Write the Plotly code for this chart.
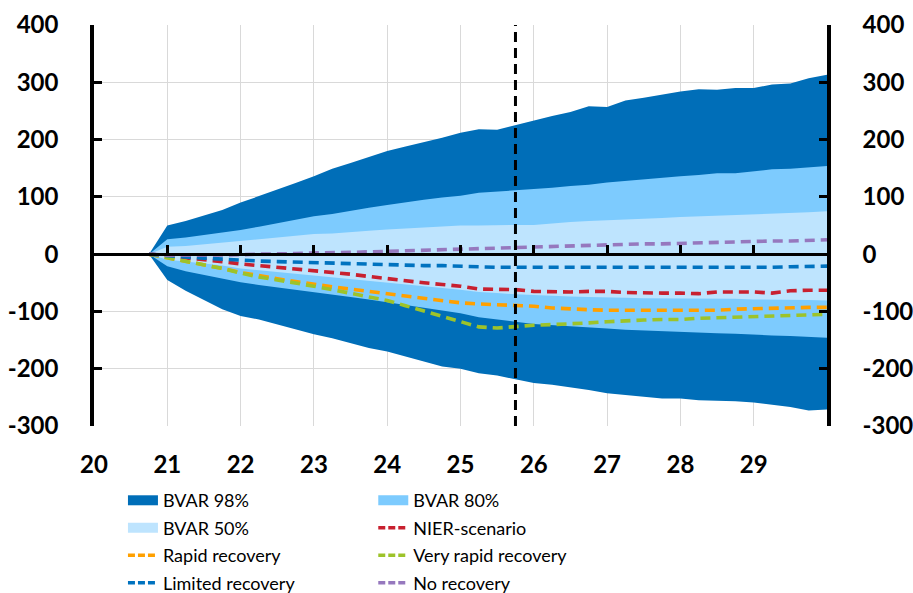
import plotly.graph_objects as go

# Quarterly horizon, years written as 20 = 2020
quarters = [20.75, 21.0, 21.25, 21.5, 21.75, 22.0, 22.25, 22.5, 22.75, 23.0,
            23.25, 23.5, 23.75, 24.0, 24.25, 24.5, 24.75, 25.0, 25.25, 25.5,
            25.75, 26.0, 26.25, 26.5, 26.75, 27.0, 27.25, 27.5, 27.75, 28.0,
            28.25, 28.5, 28.75, 29.0, 29.25, 29.5, 29.75, 30.0]

# BVAR forecast bands
bvar_98_upper = [0, 50, 58, 67, 77, 90, 101, 113, 124, 136, 149, 159, 169, 180, 188, 195, 203, 212, 218, 217,
                 225, 234, 241, 248, 258, 257, 268, 273, 279, 284, 288, 287, 290, 290, 296, 298, 307, 313]
bvar_98_lower = [0, -45, -64, -80, -96, -108, -114, -123, -131, -140, -147, -155, -164, -170, -179, -187, -196,
                 -200, -208, -212, -218, -225, -228, -232, -237, -243, -246, -249, -252, -252, -255, -256, -257,
                 -259, -263, -267, -273, -271]
bvar_80_upper = [0, 26, 29, 33, 37, 42, 48, 54, 60, 66, 70, 76, 81, 86, 91, 95, 99, 102, 107, 109,
                 112, 114, 116, 119, 121, 125, 128, 131, 134, 136, 138, 141, 141, 145, 148, 149, 151, 154]
bvar_80_lower = [0, -21, -30, -37, -43, -49, -54, -58, -63, -67, -71, -75, -79, -84, -88, -93, -98, -103, -110,
                 -114, -118, -122, -124, -126, -128, -130, -132, -133, -135, -136, -137, -138, -139, -140, -142,
                 -143, -144, -146]
bvar_50_upper = [0, 13, 14, 17, 20, 23, 26, 29, 32, 35, 36, 39, 41, 43, 45, 47, 48, 50, 50, 51,
                 51, 51, 54, 56, 58, 59, 60, 62, 63, 65, 66, 67, 68, 70, 71, 72, 73, 75]
bvar_50_lower = [0, -10, -13, -16, -20, -25, -28, -31, -34, -37, -40, -43, -46, -50, -53, -56, -59, -62, -66,
                 -68, -70, -72, -73, -74, -75, -76, -76, -77, -77, -77, -78, -78, -78, -79, -79, -80, -80, -81]

# Scenario paths
nier_scenario = [0, -3, -6, -9, -13, -17, -20, -22, -25, -28, -32, -35, -39, -43, -47, -50, -53, -56, -61, -62,
                 -62, -65, -66, -66, -65, -65, -67, -68, -68, -68, -69, -66, -66, -66, -68, -64, -63, -63]
rapid_recovery = [0, -6, -12, -18, -25, -32, -38, -43, -48, -53, -57, -61, -65, -69, -74, -78, -82, -85, -87,
                  -88, -90, -91, -94, -96, -97, -98, -98, -98, -98, -99, -99, -98, -96, -95, -94, -94, -93, -93]
very_rapid_recovery = [0, -6, -12, -18, -25, -33, -40, -45, -50, -56, -62, -68, -74, -81, -90, -99, -108, -117,
                       -127, -129, -126, -124, -123, -122, -120, -118, -116, -115, -114, -114, -112, -111, -110,
                       -110, -109, -108, -107, -105]
limited_recovery = [0, -3, -5, -7, -9, -11, -12, -13, -14, -15, -16, -17, -17, -18, -19, -20, -20, -21, -23, -23,
                    -23, -23, -23, -24, -24, -24, -24, -24, -24, -24, -24, -24, -23, -23, -23, -22, -22, -21]
no_recovery = [0, -2, -2, -2, -1, -1, 0, 0, 1, 2, 2, 3, 4, 5, 6, 7, 8, 9, 10, 10,
               11, 12, 13, 14, 15, 16, 17, 18, 18, 19, 20, 20, 21, 22, 23, 23, 24, 25]

year_ticks = [20, 21, 22, 23, 24, 25, 26, 27, 28, 29]
year_labels = ["20", "21", "22", "23", "24", "25", "26", "27", "28", "29"]
zero_line_ticks = [21, 22, 23, 24, 25, 26, 27, 28, 29]
y_ticks = [-300, -200, -100, 0, 100, 200, 300, 400]
y_labels = ["-300", "-200", "-100", "0", "100", "200", "300", "400"]
forecast_start = 25.75

DARK = "#006EB8"
MID = "#7DCBFE"
LIGHT = "#BEE4FE"
RED = "#C8202F"
ORANGE = "#FFA000"
GREEN = "#9DC32A"
BLUE = "#0072BF"
PURPLE = "#9678BE"
DASH = "10px,6px"
FONT = "Lato"

fig = go.Figure()

# Fan chart bands, widest first
bands = [(bvar_98_upper, bvar_98_lower, DARK),
         (bvar_80_upper, bvar_80_lower, MID),
         (bvar_50_upper, bvar_50_lower, LIGHT)]
for upper, lower, color in bands:
    fig.add_trace(go.Scatter(
        x=quarters + quarters[::-1], y=upper + lower[::-1],
        mode="lines", fill="toself", fillcolor=color,
        line=dict(width=0, color=color), hoverinfo="skip", showlegend=False))

# Scenario lines
scenarios = [(nier_scenario, RED), (rapid_recovery, ORANGE), (very_rapid_recovery, GREEN),
             (limited_recovery, BLUE), (no_recovery, PURPLE)]
for values, color in scenarios:
    fig.add_trace(go.Scatter(
        x=quarters, y=values, mode="lines",
        line=dict(color=color, width=3.6, dash=DASH),
        hoverinfo="skip", showlegend=False))

# Helper traces so the right-hand axis and the zero-line axis are drawn
fig.add_trace(go.Scatter(x=[None], y=[None], yaxis="y2", showlegend=False, hoverinfo="skip"))
fig.add_trace(go.Scatter(x=[None], y=[None], xaxis="x2", showlegend=False, hoverinfo="skip"))

# Legend entries: two columns of four rows, one legend box per entry
legend_entries = [
    ("BVAR 98%", DARK, "band", 0, 0), ("BVAR 80%", MID, "band", 1, 0),
    ("BVAR 50%", LIGHT, "band", 0, 1), ("NIER-scenario", RED, "line", 1, 1),
    ("Rapid recovery", ORANGE, "line", 0, 2), ("Very rapid recovery", GREEN, "line", 1, 2),
    ("Limited recovery", BLUE, "line", 0, 3), ("No recovery", PURPLE, "line", 1, 3),
]
col_x = [0.0395, 0.381]
row_y = [-0.1860, -0.2546, -0.3232, -0.3915]
legend_layouts = {}
for i, (name, color, kind, col, row) in enumerate(legend_entries):
    key = "legend" if i == 0 else f"legend{i + 1}"
    if kind == "band":
        line = dict(color=color, width=13)
    else:
        line = dict(color=color, width=3.5, dash="7px,3px")
    fig.add_trace(go.Scatter(x=[None], y=[None], mode="lines", name=name, line=line,
                             legend=key, hoverinfo="skip"))
    legend_layouts[key] = dict(
        x=col_x[col], y=row_y[row], xanchor="left", yanchor="middle",
        bgcolor="rgba(0,0,0,0)", borderwidth=0,
        font=dict(family=FONT, size=18, color="black"))

fig.add_shape(type="line", xref="x", yref="paper", x0=forecast_start, x1=forecast_start,
              y0=0, y1=1, line=dict(color="black", width=3, dash=DASH), layer="above")

tick_font = dict(family=FONT, size=24, color="black", weight="bold")
fig.update_layout(
    width=913, height=593,
    margin=dict(l=94, r=86, t=25, b=167, autoexpand=False),
    plot_bgcolor="white", paper_bgcolor="white",
    font=dict(family=FONT, color="black"),
    xaxis=dict(range=[20, 30], tickvals=year_ticks, ticktext=year_labels,
               showgrid=True, gridcolor="#D9D9D9", gridwidth=1, zeroline=False,
               showline=False, ticks="", tickfont=tick_font, ticklabelstandoff=22),
    xaxis2=dict(range=[20, 30], overlaying="x", anchor="free", position=3 / 7, side="top",
                tickvals=zero_line_ticks, ticks="outside", ticklen=8, tickwidth=3,
                tickcolor="black", showline=True, linecolor="black", linewidth=3,
                showgrid=False, zeroline=False, showticklabels=False),
    yaxis=dict(range=[-300, 400], tickvals=y_ticks, ticktext=y_labels,
               showgrid=True, gridcolor="#D9D9D9", gridwidth=1, zeroline=False,
               showline=True, linecolor="black", linewidth=3.5,
               ticks="inside", ticklen=8, tickwidth=3, tickcolor="black",
               tickfont=tick_font, ticklabelstandoff=27),
    yaxis2=dict(range=[-300, 400], overlaying="y", side="right", tickvals=y_ticks, ticktext=y_labels,
                showgrid=False, zeroline=False,
                showline=True, linecolor="black", linewidth=3.5,
                ticks="inside", ticklen=8, tickwidth=3, tickcolor="black",
                tickfont=tick_font, ticklabelstandoff=27),
    **legend_layouts,
)

fig.write_html("out.html")
